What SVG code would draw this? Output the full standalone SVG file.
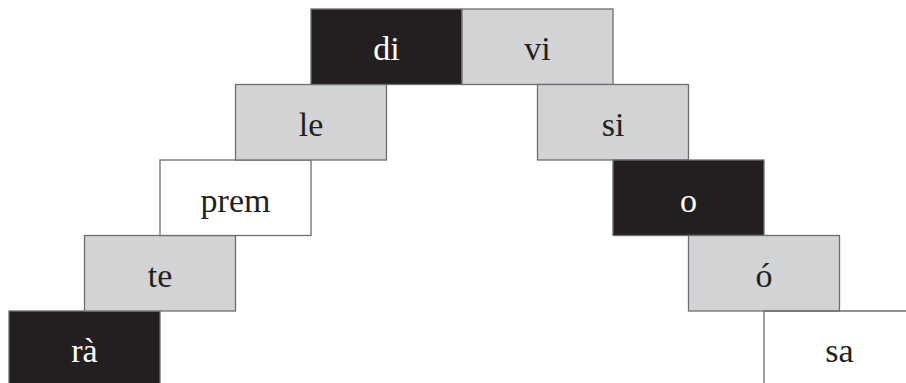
<svg xmlns="http://www.w3.org/2000/svg" width="906" height="383" viewBox="0 0 906 383">
<style>
rect{stroke:#6d6e71;stroke-width:1.3}
.d{fill:#231f20}
.g{fill:#d1d3d4}
.w{fill:#ffffff}
text{font-family:"Liberation Serif","Times New Roman",serif;font-size:34px;text-anchor:middle;fill:#231f20}
.t{fill:#ffffff}
.ln{fill:none;stroke:#6d6e71;stroke-width:1.3}
</style>
<rect width="906" height="383" fill="#ffffff" style="stroke:none"/>
<g id="ra"><rect class="d" x="9" y="311" width="151" height="80"/><text class="t" x="84.5" y="362">rà</text></g>
<g id="te"><rect class="g" x="84.5" y="235.5" width="151" height="75.5"/><text x="160" y="287">te</text></g>
<g id="prem"><rect class="w" x="160" y="160" width="151" height="75.5"/><text x="235.5" y="211.5">prem</text></g>
<g id="le"><rect class="g" x="235.5" y="84.5" width="151" height="75.5"/><text x="311" y="136">le</text></g>
<g id="di"><rect class="d" x="311" y="9" width="151" height="75.5"/><text class="t" x="386.5" y="60">di</text></g>
<g id="vi"><rect class="g" x="462" y="9" width="151" height="75.5"/><text x="537.5" y="60">vi</text></g>
<g id="si"><rect class="g" x="537.5" y="84.5" width="151" height="75.5"/><text x="613" y="136">si</text></g>
<g id="o"><rect class="d" x="613" y="160" width="151" height="75.5"/><text class="t" x="688.5" y="211.5">o</text></g>
<g id="o2"><rect class="g" x="688.5" y="235.5" width="151" height="75.5"/><text x="764" y="287">ó</text></g>
<g id="sa"><path class="ln" d="M764,383 V311 H906"/><text x="839.5" y="362">sa</text></g>
<g id="connectors"></g>
</svg>
